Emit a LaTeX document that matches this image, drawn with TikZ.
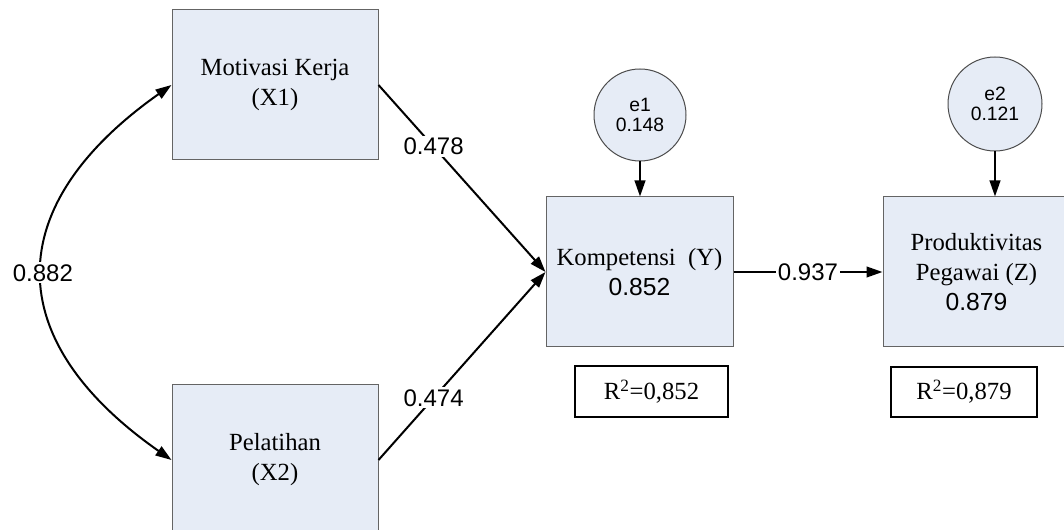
\documentclass[tikz,border=0pt]{standalone}
\usepackage{fontspec}
\setmainfont{Liberation Serif}
\setsansfont{Liberation Sans}
\usetikzlibrary{arrows.meta}
\definecolor{boxfill}{RGB}{230,236,246}
\definecolor{boxline}{RGB}{100,100,100}
\tikzset{
  varbox/.style={draw=boxline, line width=0.75pt, fill=boxfill, rectangle, align=center, inner sep=0pt,
    font=\fontsize{18.5}{22.5}\selectfont},
  errc/.style={draw=black!70, line width=0.75pt, fill=boxfill, circle, align=center, inner sep=0pt,
    minimum size=69pt, font=\sffamily\fontsize{14.5}{15.5}\selectfont},
  rbox/.style={draw=black, line width=1.2pt, fill=white, rectangle, inner sep=0pt,
    font=\fontsize{18.5}{22}\selectfont},
  conn/.style={line width=1.5pt, -{Triangle[length=12pt,width=8pt]}},
  lbl/.style={fill=white, inner sep=1.5pt, font=\sffamily\fontsize{18}{20}\selectfont}
}
\begin{document}
\begin{tikzpicture}[x=0.75pt,y=-0.75pt]
\useasboundingbox (0,0) rectangle (1064,530);
\clip (0,0) rectangle (1064,530);
\node[varbox, minimum width=154.5pt, minimum height=112.5pt] (x1) at (275,85) {Motivasi Kerja\\(X1)};
\node[varbox, minimum width=154.5pt, minimum height=112.5pt] (x2) at (275,460) {Pelatihan\\(X2)};
\node[varbox, minimum width=140.25pt, minimum height=112.5pt] (y) at (639.5,272) {Kompetensi~~(Y)\\{\sffamily 0.852}};
\node[varbox, minimum width=140.25pt, minimum height=112.5pt] (z) at (976.5,272) {Produktivitas\\Pegawai (Z)\\{\sffamily 0.879}};
\node[errc] (e1) at (640,115) {e1\\0.148};
\node[errc, minimum size=70.5pt] (e2) at (995,104) {e2\\0.121};
\node[rbox, minimum width=114.75pt, minimum height=38.25pt] (r1) at (651.5,391.5) {R\textsuperscript{2}=0,852};
\node[rbox, minimum width=109.5pt, minimum height=37.5pt] (r2) at (964,392) {R\textsuperscript{2}=0,879};

\draw[conn] (x1.east) -- node[lbl, pos=0.33] {0.478} (y.west);
\draw[conn] (x2.east) -- node[lbl, pos=0.33] {0.474} (y.west);
\draw[conn] (y.east) -- node[lbl, pos=0.5] {0.937} (z.west);
\draw[conn] (e1.south) -- (e1.south |- y.north);
\draw[conn] (e2.south) -- (e2.south |- z.north);
\draw[line width=1.5pt, {Triangle[length=12pt,width=8pt]}-{Triangle[length=12pt,width=8pt]}]
  (x1.west) .. controls (0,206) and (0,340) .. node[lbl, pos=0.5] {0.882} (x2.west);
\end{tikzpicture}
\end{document}
